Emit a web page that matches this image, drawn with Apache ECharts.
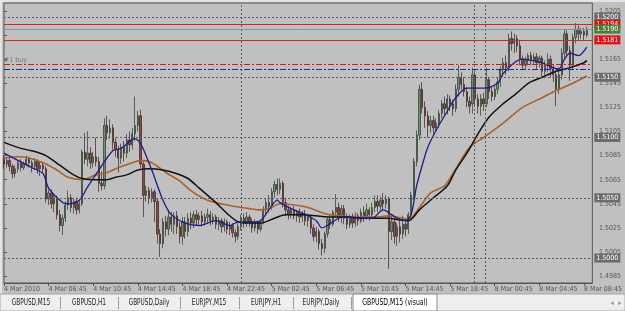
<!DOCTYPE html>
<html>
<head>
<meta charset="utf-8">
<script src="https://cdn.jsdelivr.net/npm/echarts@6/dist/echarts.min.js"></script>
<style>
  html, body { margin: 0; padding: 0; background: #c0c0c0; }
  #chart { width: 625px; height: 311px; }
</style>
</head>
<body>
<div id="chart"></div>
<script>
// time axis: one label every 16 bars (M15)
const timeLabels = ['4 Mar 2010', '4 Mar 06:45', '4 Mar 10:45', '4 Mar 14:45', '4 Mar 18:45',
  '4 Mar 22:45', '5 Mar 02:45', '5 Mar 06:45', '5 Mar 10:45', '5 Mar 14:45', '5 Mar 18:45',
  '8 Mar 00:45', '8 Mar 04:45', '8 Mar 08:45'];
const barsPerLabel = 16;

// GBPUSD M15 bars: [open, close, low, high]
const ohlc = [
  [1.5082,1.5078,1.5074,1.5085],[1.5078,1.5081,1.5075,1.5084],[1.5081,1.5076,1.5072,1.5083],[1.5076,1.5070,1.5066,1.5078],
  [1.5070,1.5074,1.5067,1.5077],[1.5074,1.5079,1.5071,1.5081],[1.5079,1.5075,1.5072,1.5082],[1.5075,1.5078,1.5073,1.5080],
  [1.5078,1.5082,1.5076,1.5085],[1.5082,1.5079,1.5075,1.5084],[1.5079,1.5076,1.5071,1.5081],[1.5076,1.5080,1.5073,1.5083],
  [1.5080,1.5074,1.5070,1.5082],[1.5074,1.5077,1.5068,1.5080],[1.5077,1.5074,1.5070,1.5079],[1.5074,1.5049,1.5046,1.5076],
  [1.5049,1.5054,1.5044,1.5057],[1.5054,1.5045,1.5041,1.5057],[1.5045,1.5050,1.5038,1.5053],[1.5050,1.5036,1.5032,1.5052],
  [1.5036,1.5027,1.5022,1.5040],[1.5027,1.5033,1.5019,1.5036],[1.5033,1.5044,1.5030,1.5047],[1.5044,1.5050,1.5040,1.5056],
  [1.5050,1.5042,1.5038,1.5053],[1.5042,1.5047,1.5037,1.5050],[1.5047,1.5040,1.5036,1.5050],[1.5040,1.5045,1.5037,1.5048],
  [1.5045,1.5088,1.5043,1.5090],[1.5088,1.5082,1.5078,1.5104],[1.5082,1.5087,1.5076,1.5105],[1.5087,1.5079,1.5074,1.5092],
  [1.5079,1.5084,1.5075,1.5088],[1.5084,1.5080,1.5076,1.5100],[1.5080,1.5062,1.5055,1.5084],[1.5062,1.5060,1.5056,1.5072],
  [1.5060,1.5110,1.5057,1.5116],[1.5110,1.5104,1.5098,1.5118],[1.5104,1.5108,1.5099,1.5115],[1.5108,1.5096,1.5090,1.5111],
  [1.5096,1.5090,1.5084,1.5100],[1.5090,1.5083,1.5071,1.5093],[1.5083,1.5092,1.5078,1.5095],[1.5092,1.5087,1.5080,1.5097],
  [1.5087,1.5098,1.5083,1.5103],[1.5098,1.5094,1.5088,1.5105],[1.5094,1.5103,1.5090,1.5108],[1.5103,1.5110,1.5097,1.5134],
  [1.5110,1.5118,1.5105,1.5122],[1.5118,1.5078,1.5075,1.5123],[1.5078,1.5052,1.5034,1.5080],[1.5052,1.5056,1.5047,1.5060],
  [1.5056,1.5050,1.5045,1.5059],[1.5050,1.5055,1.5046,1.5058],[1.5055,1.5047,1.5030,1.5057],[1.5047,1.5020,1.5012,1.5049],
  [1.5020,1.5012,1.5001,1.5024],[1.5012,1.5030,1.5008,1.5033],[1.5030,1.5024,1.5018,1.5035],[1.5024,1.5034,1.5019,1.5040],
  [1.5034,1.5028,1.5022,1.5038],[1.5028,1.5035,1.5020,1.5038],[1.5035,1.5026,1.5020,1.5039],[1.5026,1.5018,1.5012,1.5030],
  [1.5018,1.5030,1.5011,1.5034],[1.5030,1.5022,1.5016,1.5034],[1.5022,1.5033,1.5018,1.5037],[1.5033,1.5029,1.5024,1.5038],
  [1.5029,1.5036,1.5025,1.5039],[1.5036,1.5032,1.5027,1.5040],[1.5032,1.5035,1.5028,1.5038],[1.5035,1.5030,1.5026,1.5039],
  [1.5030,1.5034,1.5027,1.5037],[1.5034,1.5036,1.5029,1.5041],[1.5036,1.5031,1.5027,1.5039],[1.5031,1.5034,1.5028,1.5037],
  [1.5034,1.5028,1.5024,1.5036],[1.5028,1.5031,1.5023,1.5034],[1.5031,1.5026,1.5021,1.5033],[1.5026,1.5030,1.5022,1.5033],
  [1.5030,1.5024,1.5020,1.5032],[1.5024,1.5027,1.5019,1.5030],[1.5027,1.5021,1.5017,1.5029],[1.5021,1.5018,1.5013,1.5024],
  [1.5018,1.5026,1.5015,1.5029],[1.5026,1.5033,1.5023,1.5036],[1.5033,1.5029,1.5025,1.5037],[1.5029,1.5034,1.5026,1.5038],
  [1.5034,1.5030,1.5026,1.5036],[1.5030,1.5025,1.5021,1.5033],[1.5025,1.5029,1.5022,1.5032],[1.5029,1.5024,1.5020,1.5031],
  [1.5024,1.5030,1.5022,1.5032],[1.5030,1.5040,1.5028,1.5043],[1.5040,1.5046,1.5036,1.5049],[1.5046,1.5043,1.5038,1.5052],
  [1.5043,1.5055,1.5040,1.5058],[1.5055,1.5061,1.5050,1.5064],[1.5061,1.5057,1.5052,1.5066],[1.5057,1.5062,1.5053,1.5066],
  [1.5062,1.5046,1.5042,1.5064],[1.5046,1.5040,1.5035,1.5050],[1.5040,1.5036,1.5032,1.5043],[1.5036,1.5040,1.5033,1.5042],
  [1.5040,1.5035,1.5032,1.5043],[1.5035,1.5038,1.5030,1.5040],[1.5038,1.5034,1.5029,1.5041],[1.5034,1.5037,1.5030,1.5039],
  [1.5037,1.5031,1.5027,1.5040],[1.5031,1.5034,1.5026,1.5037],[1.5034,1.5025,1.5020,1.5036],[1.5025,1.5018,1.5014,1.5028],
  [1.5018,1.5022,1.5013,1.5026],[1.5022,1.5012,1.5007,1.5024],[1.5012,1.5008,1.5002,1.5016],[1.5008,1.5020,1.5004,1.5022],
  [1.5020,1.5032,1.5017,1.5034],[1.5032,1.5028,1.5024,1.5036],[1.5028,1.5038,1.5026,1.5040],[1.5038,1.5042,1.5034,1.5053],
  [1.5042,1.5036,1.5030,1.5046],[1.5036,1.5041,1.5029,1.5044],[1.5041,1.5033,1.5028,1.5044],[1.5033,1.5028,1.5024,1.5037],
  [1.5028,1.5034,1.5025,1.5036],[1.5034,1.5029,1.5025,1.5037],[1.5029,1.5035,1.5026,1.5038],[1.5035,1.5031,1.5027,1.5037],
  [1.5031,1.5038,1.5029,1.5041],[1.5038,1.5035,1.5030,1.5043],[1.5035,1.5040,1.5032,1.5045],[1.5040,1.5036,1.5031,1.5042],
  [1.5036,1.5042,1.5033,1.5046],[1.5042,1.5047,1.5038,1.5052],[1.5047,1.5043,1.5038,1.5052],[1.5043,1.5048,1.5040,1.5051],
  [1.5048,1.5045,1.5040,1.5054],[1.5045,1.5049,1.5041,1.5052],[1.5049,1.5022,1.4991,1.5051],[1.5022,1.5030,1.5015,1.5034],
  [1.5030,1.5018,1.5012,1.5033],[1.5018,1.5026,1.5010,1.5029],[1.5026,1.5020,1.5013,1.5034],[1.5020,1.5028,1.5016,1.5035],
  [1.5028,1.5024,1.5018,1.5032],[1.5024,1.5036,1.5020,1.5038],[1.5036,1.5052,1.5033,1.5055],[1.5052,1.5080,1.5048,1.5083],
  [1.5080,1.5102,1.5076,1.5106],[1.5102,1.5140,1.5098,1.5144],[1.5140,1.5125,1.5120,1.5146],[1.5125,1.5118,1.5108,1.5130],
  [1.5118,1.5110,1.5100,1.5122],[1.5110,1.5114,1.5104,1.5118],[1.5114,1.5108,1.5103,1.5118],[1.5108,1.5112,1.5105,1.5116],
  [1.5112,1.5120,1.5108,1.5123],[1.5120,1.5128,1.5116,1.5131],[1.5128,1.5124,1.5118,1.5134],[1.5124,1.5132,1.5119,1.5136],
  [1.5132,1.5128,1.5122,1.5135],[1.5128,1.5124,1.5118,1.5131],[1.5124,1.5140,1.5121,1.5144],[1.5140,1.5150,1.5134,1.5160],
  [1.5150,1.5144,1.5140,1.5154],[1.5144,1.5138,1.5134,1.5150],[1.5138,1.5130,1.5125,1.5142],[1.5130,1.5126,1.5120,1.5134],
  [1.5128,1.5152,1.5120,1.5158],[1.5152,1.5132,1.5126,1.5155],[1.5132,1.5126,1.5120,1.5136],[1.5126,1.5132,1.5118,1.5136],
  [1.5132,1.5128,1.5122,1.5137],[1.5128,1.5148,1.5125,1.5158],[1.5148,1.5138,1.5132,1.5150],[1.5138,1.5134,1.5130,1.5142],
  [1.5134,1.5140,1.5131,1.5143],[1.5140,1.5146,1.5136,1.5150],[1.5146,1.5156,1.5142,1.5159],[1.5156,1.5162,1.5150,1.5166],
  [1.5162,1.5158,1.5152,1.5168],[1.5158,1.5182,1.5155,1.5186],[1.5182,1.5178,1.5172,1.5188],[1.5178,1.5182,1.5170,1.5186],
  [1.5182,1.5176,1.5171,1.5185],[1.5176,1.5165,1.5160,1.5180],[1.5165,1.5160,1.5156,1.5168],[1.5160,1.5164,1.5157,1.5167],
  [1.5164,1.5168,1.5160,1.5170],[1.5168,1.5164,1.5160,1.5171],[1.5164,1.5167,1.5160,1.5170],[1.5167,1.5162,1.5157,1.5170],
  [1.5162,1.5166,1.5158,1.5168],[1.5166,1.5155,1.5150,1.5168],[1.5155,1.5160,1.5152,1.5164],[1.5160,1.5165,1.5154,1.5170],
  [1.5165,1.5157,1.5150,1.5168],[1.5157,1.5152,1.5146,1.5160],[1.5152,1.5140,1.5126,1.5156],[1.5140,1.5152,1.5136,1.5158],
  [1.5152,1.5170,1.5148,1.5174],[1.5170,1.5186,1.5166,1.5190],[1.5186,1.5172,1.5168,1.5189],[1.5172,1.5160,1.5147,1.5176],
  [1.5160,1.5183,1.5156,1.5186],[1.5183,1.5190,1.5178,1.5195],[1.5190,1.5186,1.5180,1.5193],[1.5186,1.5188,1.5182,1.5191],
  [1.5188,1.5185,1.5181,1.5191],[1.5185,1.5190,1.5183,1.5192]
];

// moving averages: [bar, price]
const maFast = [
  [0,1.5087],[10,1.5075],[14,1.5070],[16,1.5058],[21,1.5046],[23,1.5045],[27,1.5048],[30,1.5059],[34,1.5073],
  [39,1.5089],[42,1.5091],[47,1.5099],[49,1.5095],[53,1.5073],[57,1.5048],[60,1.5036],[65,1.5029],[70,1.5027],
  [76,1.5031],[81,1.5027],[84,1.5030],[89,1.5030],[92,1.5031],[95,1.5040],[98,1.5048],[99,1.5046],[103,1.5041],
  [108,1.5036],[112,1.5031],[114,1.5025],[116,1.5027],[120,1.5033],[123,1.5034],[128,1.5033],[132,1.5033],
  [136,1.5040],[139,1.5036],[141,1.5033],[144,1.5031],[146,1.5036],[148,1.5060],[150,1.5077],[152,1.5092],
  [155,1.5106],[159,1.5122],[162,1.5133],[166,1.5141],[172,1.5141],[177,1.5145],[179,1.5153],[183,1.5162],
  [186,1.5165],[189,1.5164],[193,1.5162],[197,1.5158],[199,1.5157],[201,1.5165],[203,1.5170],[206,1.5168],[209,1.5175]
];
const maSlow = [
  [0,1.5096],[6,1.5091],[10,1.5089],[15,1.5085],[20,1.5077],[25,1.5069],[28,1.5066],[33,1.5065],[37,1.5065],
  [40,1.5067],[44,1.5069],[48,1.5073],[52,1.5074],[57,1.5073],[62,1.5070],[66,1.5066],[70,1.5058],[76,1.5046],
  [80,1.5037],[84,1.5030],[88,1.5029],[92,1.5029],[97,1.5033],[101,1.5036],[107,1.5036],[112,1.5035],[116,1.5034],
  [123,1.5034],[130,1.5033],[138,1.5033],[141,1.5032],[145,1.5031],[149,1.5040],[154,1.5050],[159,1.5060],
  [162,1.5073],[166,1.5087],[170,1.5103],[174,1.5117],[179,1.5128],[184,1.5137],[188,1.5145],[193,1.5150],
  [198,1.5155],[203,1.5158],[208,1.5162],[209,1.5164]
];
const maMid = [
  [0,1.5083],[5,1.5084],[9,1.5083],[14,1.5079],[19,1.5073],[23,1.5067],[28,1.5065],[33,1.5069],[37,1.5071],
  [41,1.5075],[46,1.5079],[49,1.5081],[53,1.5079],[58,1.5071],[63,1.5064],[67,1.5056],[73,1.5048],[80,1.5044],
  [88,1.5041],[91,1.5040],[95,1.5041],[99,1.5045],[104,1.5044],[109,1.5042],[115,1.5037],[120,1.5035],[126,1.5034],
  [133,1.5034],[138,1.5035],[141,1.5034],[145,1.5032],[149,1.5042],[153,1.5054],[158,1.5060],[162,1.5074],
  [167,1.5092],[172,1.5100],[179,1.5112],[186,1.5125],[193,1.5133],[198,1.5139],[204,1.5145],[209,1.5151]
];

// chart objects
const roundLevels = [1.5200, 1.5150, 1.5100, 1.5050, 1.5000];
const redLevels = [1.5194, 1.5181];
const bidPrice = 1.5190;
const buyOrder = 1.5161;
const buyStop = 1.5157;
const vLines = [85, 168.6, 172.5];

const tabNames = ['GBPUSD,M15', 'GBPUSD,H1', 'GBPUSD,Daily', 'EURJPY,M15', 'EURJPY,H1', 'EURJPY,Daily'];
const activeTab = 'GBPUSD,M15 (visual)';

const font = "'Liberation Sans Narrow', 'DejaVu Sans Condensed', 'Liberation Sans', sans-serif";
const axisColor = '#4f5a47';

function boxLabel(bg) {
  return {
    show: true, position: 'end', distance: 2,
    formatter: p => Number(p.value).toFixed(4),
    backgroundColor: bg, color: '#ffffff',
    fontSize: 7, fontFamily: font, padding: [1, 2, 0, 2], lineHeight: 8
  };
}

const markData = [];
roundLevels.forEach(v => markData.push({
  yAxis: v, lineStyle: { color: '#5c5c5c', type: [2, 2], width: 1 }, label: boxLabel('#6c6c6c')
}));
vLines.forEach(v => markData.push({
  xAxis: v, lineStyle: { color: '#5c5c5c', type: [2, 2], width: 1 }, label: { show: false }
}));
markData.push({
  yAxis: buyOrder, lineStyle: { color: '#c81e1e', type: [6, 2, 2, 2], width: 1 },
  label: { show: true, position: 'insideStartTop', distance: 0, formatter: '#1 buy',
    color: '#777777', fontSize: 7, fontFamily: font }
});
markData.push({
  yAxis: buyStop, lineStyle: { color: '#1a2aa0', type: [6, 2, 2, 2], width: 1 }, label: { show: false }
});
redLevels.forEach(v => markData.push({
  yAxis: v, lineStyle: { color: '#cc2a2a', type: 'solid', width: 1 }, label: boxLabel('#e01414')
}));
markData.push({
  yAxis: bidPrice, lineStyle: { color: '#8a94a6', type: 'solid', width: 1 }, label: boxLabel('#4e7d35')
});

// tab bar
const tabSeps = [60, 118, 180, 239, 293, 351];
const tabCenters = [31, 89, 149, 209, 266, 321];
const graphics = [
  { type: 'rect', shape: { x: 0, y: 0, width: 625, height: 2 }, style: { fill: '#e4e4e4' } },
  { type: 'rect', shape: { x: 0, y: 0, width: 2, height: 294 }, style: { fill: '#e4e4e4' } },
  { type: 'rect', shape: { x: 0, y: 294, width: 625, height: 17 }, style: { fill: '#efefef', stroke: '#a8a8a8', lineWidth: 1 } },
  { type: 'rect', shape: { x: 353, y: 294, width: 84, height: 17 }, style: { fill: '#ffffff', stroke: '#8a8a8a', lineWidth: 1 } },
  { type: 'text', x: 395, y: 303, scaleX: 0.85,
    style: { text: activeTab, fill: '#000000', font: '8px ' + font, textAlign: 'center', textVerticalAlign: 'middle' } },
  { type: 'text', x: 612, y: 303, style: { text: '◂', fill: '#9a9a9a', font: '7px DejaVu Sans', textAlign: 'center', textVerticalAlign: 'middle' } },
  { type: 'text', x: 620, y: 303, style: { text: '▸', fill: '#9a9a9a', font: '7px DejaVu Sans', textAlign: 'center', textVerticalAlign: 'middle' } }
];
tabSeps.forEach(x => graphics.push({
  type: 'line', shape: { x1: x + 0.5, y1: 297, x2: x + 0.5, y2: 309 }, style: { stroke: '#9a9a9a', lineWidth: 1 }
}));
tabNames.forEach((t, i) => graphics.push({
  type: 'text', x: tabCenters[i], y: 303, scaleX: 0.8,
  style: { text: t, fill: '#202020', font: '8px ' + font, textAlign: 'center', textVerticalAlign: 'middle' }
}));

const chart = echarts.init(document.getElementById('chart'), null, { renderer: 'canvas' });

const option = {
  animation: false,
  backgroundColor: '#c0c0c0',
  grid: [
    { left: 4, right: 29, top: 3, bottom: 28, show: true, borderColor: '#555555', borderWidth: 1, backgroundColor: '#c0c0c0' },
    { left: 4, right: 29, top: 3, bottom: 34.87 }
  ],
  xAxis: [
    {
      type: 'value', gridIndex: 0, min: 0, max: 211, interval: barsPerLabel,
      axisLine: { show: true, lineStyle: { color: '#555555' } },
      axisTick: { show: true, length: 3, lineStyle: { color: '#555555' } },
      splitLine: { show: false },
      axisLabel: {
        align: 'left', margin: 3, fontSize: 7, fontFamily: font, color: axisColor,
        showMaxLabel: false,
        formatter: v => (v % barsPerLabel === 0 ? (timeLabels[v / barsPerLabel] || '') : '')
      }
    },
    { type: 'value', gridIndex: 1, min: 0, max: 211, show: false }
  ],
  yAxis: [
    { type: 'value', gridIndex: 0, min: 1.49793, max: 1.52116, show: false },
    {
      type: 'value', gridIndex: 1, position: 'right', min: 1.4985, max: 1.52116, interval: 0.002,
      axisLine: { show: false },
      axisTick: { show: true, length: 3, lineStyle: { color: '#555555' } },
      splitLine: { show: false },
      axisLabel: {
        margin: 3, fontSize: 7, fontFamily: font, color: axisColor, showMaxLabel: false,
        formatter: v => (Math.abs(v - 1.5185) < 1e-6 || v > 1.5206 ? '' : v.toFixed(4))
      }
    }
  ],
  series: [
    {
      type: 'candlestick',
      xAxisIndex: 0, yAxisIndex: 0,
      data: ohlc.map((b, i) => [i, b[0], b[1], b[2], b[3]]),
      encode: { x: 0, y: [1, 2, 3, 4] },
      barWidth: 1.8,
      itemStyle: {
        color: '#6f8f6f', color0: '#8f4848',
        borderColor: '#2a3a2a', borderColor0: '#3a1e1e', borderWidth: 0.7
      },
      markLine: { silent: true, symbol: 'none', precision: 4, animation: false, data: markData }
    },
    {
      type: 'line', data: maMid, xAxisIndex: 0, yAxisIndex: 0, showSymbol: false, smooth: 0.3,
      lineStyle: { color: '#a8602c', width: 1.6 }
    },
    {
      type: 'line', data: maSlow, xAxisIndex: 0, yAxisIndex: 0, showSymbol: false, smooth: 0.3,
      lineStyle: { color: '#111111', width: 1.5 }
    },
    {
      type: 'line', data: maFast, xAxisIndex: 0, yAxisIndex: 0, showSymbol: false, smooth: 0.3,
      lineStyle: { color: '#1c1c8c', width: 1.3 }
    }
  ],
  graphic: graphics
};

chart.setOption(option);
</script>
</body>
</html>
